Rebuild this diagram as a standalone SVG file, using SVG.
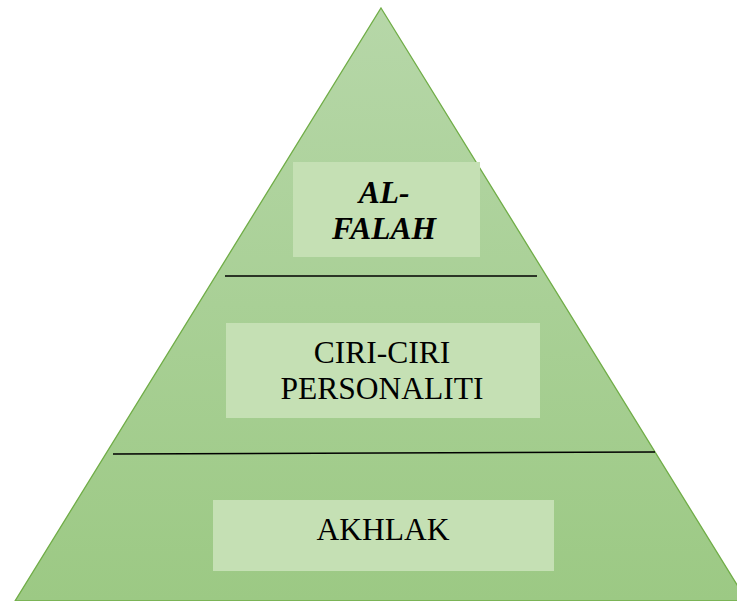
<svg xmlns="http://www.w3.org/2000/svg" width="737" height="601" viewBox="0 0 737 601">
  <defs>
    <linearGradient id="g" x1="0" y1="0" x2="0" y2="1">
      <stop offset="0" stop-color="#b6d7a8"/>
      <stop offset="1" stop-color="#9cc984"/>
    </linearGradient>
    <style>
      .box { fill: #c5e0b4; }
      .t { font-family: 'Liberation Serif', 'Times New Roman', serif; font-size: 31.5px; fill: #000; text-anchor: middle; }
      .bi { font-weight: bold; font-style: italic; }
      .sep { stroke: #000; stroke-width: 1.5; fill: none; }
    </style>
  </defs>
  <rect width="737" height="601" fill="#fff"/>
  <g id="pyramid">
    <polygon points="381,8 747,601 15,601" fill="url(#g)" stroke="#70ad47" stroke-width="1.3"/>
  </g>
  <g id="connectors">
    <line class="sep" x1="225" y1="276" x2="537" y2="276"/>
    <line class="sep" x1="113" y1="454" x2="655" y2="452"/>
  </g>
  <g id="node-alfalah">
    <rect class="box" x="293" y="162" width="187" height="95"/>
    <text class="t bi" x="384" y="203">AL-</text>
    <text class="t bi" x="384" y="239">FALAH</text>
  </g>
  <g id="node-ciri">
    <rect class="box" x="226" y="323" width="314" height="95"/>
    <text class="t" x="382" y="363">CIRI-CIRI</text>
    <text class="t" x="382" y="399">PERSONALITI</text>
  </g>
  <g id="node-akhlak">
    <rect class="box" x="213" y="500" width="341" height="71"/>
    <text class="t" x="383" y="540">AKHLAK</text>
  </g>
</svg>
